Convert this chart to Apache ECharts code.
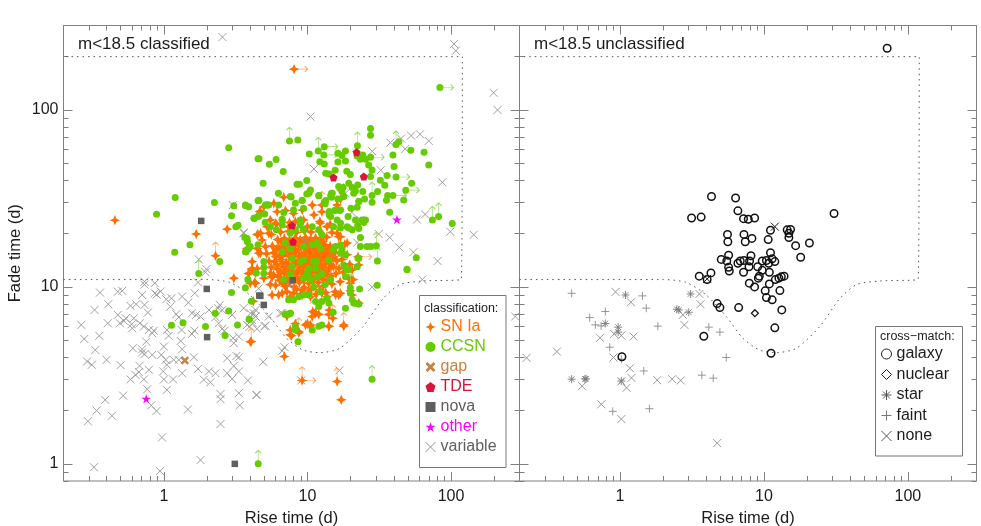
<!DOCTYPE html>
<html><head><meta charset="utf-8">
<style>html,body{margin:0;padding:0;background:#fff}#c{width:981px;height:526px}</style>
<script src="https://cdn.jsdelivr.net/npm/echarts@6/dist/echarts.min.js"></script>
</head><body><div id="c"></div>
<script>
const xMajor=[1,10,100];
const xMinor=[0.2,0.3,0.4,0.5,0.6,0.7,0.8,0.9,2,3,4,5,6,7,8,9,20,30,40,50,60,70,80,90,200,300];
const yMajor=[1,10,100];
const yMinor=[0.8,0.9,2,3,4,5,6,7,8,9,20,30,40,50,60,70,80,90,200,300];
const boundary=[[0.2,11],[1,11],[2,11],[2.88,10.6],[3.97,9],[5.47,6.8],[7.14,5.13],[9.3,4.4],[12.2,4.25],[16.8,4.5],[24.4,5.97],[33.7,8.6],[44,10.3],[64,10.8],[118,11.05],[120,200],[0.2,200]];

const variable=[[.266,6.1],[.279,5.08],[.355,5.29],[.333,4.4],[.292,3.79],[.315,3.63],[.399,3.87],[.5,3.61],[.359,9.29],[.329,7.41],[.41,7.98],[.407,6.23],[.478,9.4],[.513,9.5],[.478,6.95],[.494,6.23],[.527,6.43],[.586,7.81],[.641,7.98],[.543,6.65],[.596,6.15],[.602,5.84],[.618,6.65],[.681,6.23],[.726,5.97],[.733,10.7],[.733,10.3],[.865,10.5],[.706,9],[.733,7.91],[.774,7.16],[.865,9.2],[.95,9.42],[.89,9.05],[1.13,8.63],[1.04,8.51],[1.34,8.82],[1.48,8.15],[1.64,9.2],[1.73,10.6],[1.95,12.1],[1.11,7.74],[1.22,7.01],[1.27,6.74],[1.57,7.1],[1.68,6.95],[1.8,6.8],[2.06,7.41],[2.45,7.91],[2.38,7.58],[2.55,7.4],[2.29,6.74],[2.41,6.23],[2.55,5.79],[2.64,5.64],[2.99,6.95],[3.6,7.58],[4.01,7.1],[4.35,6.8],[3.04,5.13],[3.33,5.24],[3.07,4.81],[3.8,6.1],[3.95,5.95],[4.15,6.25],[4.45,5.8],[1.57,5.42],[1.63,5.66],[1.33,5.71],[1.08,5.29],[1.05,5.71],[.787,5.71],[.851,5.66],[.83,5.47],[.754,4.91],[.608,4.5],[.706,4.44],[.706,4.26],[.733,4.17],[.83,4.13],[.96,4.13],[1,4.6],[1.31,4.95],[1.34,4.44],[1.17,3.87],[1.27,3.87],[1.62,4],[1.73,3.44],[2.06,3.33],[2.29,3.25],[2.76,3.95],[3.2,4.07],[3.33,4],[3.07,3.58],[2.76,3.25],[3.33,3.33],[2.99,3.02],[3.85,2.96],[1.9,2.99],[2.11,2.89],[1.34,3.25],[1.16,3],[1,3],[.99,3.33],[1.05,3.63],[1.03,3.87],[.787,3.4],[.677,3.58],[.635,3.18],[.586,3],[.67,3.3],[.726,3],[.766,2.64],[1.05,2.62],[.521,2.43],[.39,2.3],[.34,2],[.296,1.74],[.435,1.87],[.817,2.14],[.889,1.99],[1.47,2.03],[2.48,2.48],[2.48,2.32],[3.33,2.51],[3.38,2.14],[2.48,1.68],[4.42,2.45],[.97,1.41],[1.8,1.05],[.326,.957],[.94,.91],[2.56,258],[3.02,29],[3.6,20.3],[1.75,14.3],[1.98,12.6],[105,236],[108,216],[198,125],[211,100],[10.5,91.7],[28.3,58.4],[37.8,65.3],[44.9,68.9],[52.7,71.6],[60.9,72.9],[70,66.8],[48,60.2],[11.1,46.4],[32.4,45.6],[87,39],[20.4,26.4],[58,24],[66,25.7],[23.4,23.9],[31.4,19.9],[37.4,19],[98.9,20.5],[144,19.7],[22.2,17.8],[43.7,16.7],[54.7,15.7],[80.7,14],[18.4,33.8],[280,6.8],[16.7,3.37],[9.06,2.96],[4.92,3.77],[4.42,2.45],[6.67,4.35],[6.93,4.56],[63.1,11],[28.2,9.95],[4.23,7.1],[4.35,6.8],[4.12,6.5],[4.35,7.41],[5.02,6],[5.38,6.8],[6.49,7.1],[5.83,11.2],[11.1,8.45],[3.6,20.1],[4.58,9.8],[5.1,6.03],[6.67,7.1]];

const snIa=[[.456,23.8],[1.68,19.9],[2.76,21.2],[4.51,19.9],[2.29,15],[4.12,12.7],[4.66,26.7],[3.07,11.2],[3.9,11.9],[4.1,12.6],[4.28,10.6],[4.06,4.91],[4.2,8.3],[8.07,170],[22.5,14.8],[22.8,13.3],[19.9,9.5],[20.3,11],[17.9,6],[15,6.65],[14.1,5.97],[14.2,7.4],[10.9,7.25],[11.3,7.05],[10,6.2],[10.4,6],[9.7,6.1],[7.74,5.3],[8.7,5.6],[6.9,4.04],[16.1,2.92],[17.2,2.3],[9.18,2.96],[5.83,29.7],[6.84,32.1],[4.97,28.4],[4.71,26.6],[6.15,26.6],[7.03,27],[12.6,29],[11.1,25.5],[16.1,29],[17,31.3],[4.71,20.1],[4.47,19.7],[4.83,18.4],[3.8,16.5],[4.58,15.5],[3.9,11.9],[4.12,12.5],[4.35,12],[5.52,11.9],[5.67,11.4],[4,10.5],[4.35,10.5],[5.67,9],[6.67,9.2],[10.5,6.1],[11.4,7.16],[14.1,7],[14.1,6],[17.9,6.1],[22.8,8.1],[20.8,11],[16.5,9],[20.5,9],[12.6,9.2],[4,4.9],[7.6,5.36],[8.7,5.5],
[6,10.2],[6.4,10.9],[7,10.1],[7.5,10.7],[8.1,10],[8.8,10.6],[9.5,9.9],[10.2,10.5],[11.1,10],[11.9,10.6],[12.9,10.1],[13.8,10.7],[14.8,10.4],
[5.8,11.7],[6.3,11.4],[6.9,11.9],[7.6,11.5],[8.3,11.8],[9,11.3],[9.9,11.8],[10.7,11.4],[11.6,11.9],[12.6,11.5],[13.5,11.8],[14.6,11.5],[15.8,11.9],
[5.6,12.9],[6.2,12.6],[6.8,13],[7.4,12.6],[8,13],[8.7,12.5],[9.4,13],[10.3,12.6],[11,13.1],[12,12.7],[13,13],[14.1,12.6],[15.2,13],[16.6,12.7],
[5.4,14],[5.9,13.9],[6.5,14.3],[7.1,13.8],[7.8,14.3],[8.5,13.9],[9.2,14.4],[10,13.9],[10.8,14.4],[11.7,14],[12.6,14.4],[13.6,14],[14.8,14.4],[16,14],[17.4,14.3],
[5.2,15.4],[5.8,15.6],[6.4,15.2],[7,15.7],[7.7,15.3],[8.3,15.7],[9.1,15.3],[9.8,15.8],[10.6,15.3],[11.5,15.8],[12.4,15.3],[13.4,15.7],[14.4,15.3],[15.6,15.7],
[5.7,17],[6.3,16.8],[7,17.2],[7.6,16.8],[8.2,17.3],[9,16.9],[9.7,17.4],[10.5,17],[11.3,17.4],[12.3,17],[13.2,17.3],[14.4,17],
[6.2,18.5],[6.9,18.8],[7.5,18.4],[8.2,18.9],[8.9,18.5],[9.7,19],[10.5,18.6],[11.4,18.9],[12.4,18.6],[13.6,19.1],
[5.6,19.8],[6.5,20.4],[7.4,20.6],[8.4,20.3],[9.5,20.8],[10.6,20.4],[12.1,20.7],[14.8,20.3],[16.5,19.2],[18.2,17.4],[18.9,15.2],[19.7,13.4],[17.8,12.1],[16.9,10.7],[8,9.2],[9,9.1],[10.1,9.3],[11.5,9.1],[13.4,9.3],[15.6,9.4],[7.2,9.4],[6.1,22.6],[7.5,23.1],[9,23.8],[12.2,23.4],[14.4,22.6],
[6.6,11],[7.2,11.2],[7.9,11],[8.6,11],[9.4,10.9],[10.2,11.1],[11,11],[11.9,11.2],[12.9,11],[6.5,12.1],[7.1,12.3],[7.8,12.1],[8.5,12.2],[9.2,12.1],[10,12.3],[10.8,12.2],[11.7,12.2],[12.6,12.2],[13.7,12.3],[6.1,13.3],[6.7,13.6],[7.4,13.4],[8.2,13.5],[9,13.4],[9.8,13.5],[10.6,13.4],[11.5,13.5],[12.4,13.4],[13.3,13.5],[14.5,13.4],[6,14.8],[6.7,14.9],[7.4,15],[8,14.8],[8.8,14.9],[9.5,14.9],[10.3,14.8],[11.2,14.9],[12,14.8],[13,14.8],[14.1,14.9],[15.3,14.8],[6.1,16.3],[6.8,16.4],[7.4,16.1],[8.1,16.4],[8.7,16.3],[9.5,16.5],[10.2,16.3],[11,16.5],[11.9,16.3],[12.8,16.4],[13.8,16.3],[15,16.4],[6.6,17.9],[7.3,17.8],[8,18],[8.7,17.9],[9.4,18],[10.1,17.8],[10.9,18],[11.8,17.9],[12.8,18],[8.4,9.7],[9.2,9.6],[10.6,9.7],[12.2,9.6],[6.8,10.4],
[5.38,20.1],[5.1,16.9],[4.47,16.5],[4.71,15.5],[4.12,13.9],[4.47,12.7],[4.97,11.2],[5.67,11.4],[5.52,10.3],[6.3,9],[7.6,8.8],[9.18,9],[10.5,8.8],[13.7,8.8],[15.7,9],[17,9.2],[19.9,10.5],[19.4,11.2],[20.5,12.5],[17,19.2],[18.9,17.7],[16.1,20.1],[13.7,21.9],[12.6,26.6],[12.3,22.9],[9.4,23.9],[10,21.9],[8.24,23.4],[7.4,21.9],[6,22.9],[5.52,23.9],[5.24,21.9],[8,26],[9.2,27.2],[10.8,29],[7.6,5.7],[8.24,6.2],[7.2,6.8],[10.8,6.8],[12,7]];

const ccsn=[[2.83,61.2],[4.53,52.9],[1.2,32],[.89,25.7],[2.25,30],[4.53,30.7],[3.07,28.7],[3.7,28.8],[3.9,28.4],[2.96,25.2],[4.25,24.4],[4.53,25],[3.17,21.9],[3.29,22.3],[3.66,19],[3.82,18],[4.53,17.3],[3.9,16.5],[3.74,15.8],[1.52,17.3],[1.19,15.7],[2.45,13.9],[83.7,134],[27.5,78.5],[27.5,71.9],[7.5,66.8],[8.57,67.7],[22.3,62.8],[11.9,58.6],[13.1,62],[13,55.7],[16.3,56.9],[18.4,58.6],[17.4,55.2],[10.3,56.4],[22.2,55],[24.3,55.7],[27.5,54],[25.4,52.6],[23.4,52.6],[18.4,51.5],[16.3,50.8],[12.2,51],[13.1,49.5],[39.4,55.7],[41.4,63.7],[43.3,66.2],[52.5,59.2],[64.9,57.7],[70,48.9],[40.1,47.9],[26.7,48.9],[28.2,45.8],[41.4,41.8],[35.9,42.6],[27.5,42],[6.78,44.9],[4.6,52.9],[5.43,49.3],[6.05,52.4],[18.8,45],[19.9,43.1],[15.6,45.6],[14.2,43.5],[13.4,43.9],[9.9,39.9],[8.47,38],[8.79,38],[4.91,38.5],[32.2,40],[34.6,37.5],[30.8,34.6],[53.2,38.5],[48.4,35.2],[39.4,32.8],[36.2,32.8],[35.5,30.9],[46.8,31],[28.2,32.8],[28.2,30.1],[25,31.4],[24.3,34.6],[21.6,34.8],[19.4,38.5],[20.5,36.4],[17.7,36.4],[16.5,36.9],[22.4,37.7],[14.7,33.8],[17.9,32.4],[16.3,31.4],[14.7,32.1],[12,32.8],[10.3,34.1],[10.5,35.3],[9.9,33.5],[9.2,30.9],[7.7,32.2],[6.28,33.8],[13.3,30.4],[13.3,29.5],[22.8,30.4],[20.1,27.8],[15.5,27],[16.8,27],[14.2,26.7],[14.2,25.5],[19.2,25],[25.4,23.9],[24.7,23.1],[22.4,22.2],[37.4,26.4],[74.2,23.9],[82,25],[102,22.8],[16.1,23.9],[17,21.5],[19.4,21.5],[4.59,30.9],[5.1,29],[5.3,29],[4.25,24.4],[5.08,23.1],[5.52,21.9],[6.08,21],[6.67,24.1],[30.2,17.1],[27.7,16.9],[30.7,14],[22.5,14.5],[57.3,14.6],[23.4,19],[49.4,12.6],
[3.7,29],[4.27,24.4],[4.58,25.2],[5.04,25.8],[5.19,29],[5.38,29],[6.3,29],[7.6,32.4],[8.24,29.7],[9.18,30.8],[10.2,33.8],[12,32.7],[13.4,30.8],[14.5,32.7],[14.9,33.8],[17.4,34.6],[21,33.8],[22.8,30.4],[22.2,28.2],[15.7,27.2],[17,27.2],[14.1,26.3],[14.5,25],[9.4,27.8],[8,27.2],[6.84,26.3],[6.67,23.9],[6.67,22.4],[8.9,23.9],[8.9,22.4],[9.4,21],[7.6,20.1],[8.24,21],[10.8,21.9],[12,21],[12.6,19.7],[15.2,21.9],[17,22.9],[18.9,21.9],[21.6,23.9],[24,23.9],[20.5,21],[22.8,21.4],[26,16.9],[3.8,18.8],[3.7,15.8],[4,16.9],[4.97,13.9],[4.97,12.9],[4.97,11.9],[7,17.7],[7.6,16.5],[6.7,15.8],[7.8,14.5],[7.8,13],[9.4,16.9],[9.4,14.2],[9,13.9],[10.8,17.3],[11.7,17.7],[12.3,16.5],[11,13.9],[11.6,13.9],[10.2,12.7],[10,11.9],[11.4,12.7],[12.6,11.9],[11.7,11.4],[9.4,11.2],[10.5,11],[14.1,14.2],[15.2,16.2],[15.7,16.9],[17.4,16.2],[17,17.3],[17,15.5],[18.4,15.2],[17.9,13.3],[18.9,12.5],[19.4,12.5],[18.4,11.4],[19.9,9.2],[21,8.1],[22.8,14.5],[22.2,13],[23.4,16.9],[6.84,11],[7.6,11.7],[11.1,10],[12.3,9.4],[13.3,10.3],[14.5,11],[9.4,9],[10.2,9],[8.7,8.8],[8,8.45],[7.4,8.45],[7,7],[7.6,7.1],[11.4,8.26],[12,7.74],[12.6,8.26],[13.7,8.63],[14.1,8.1],[18.4,7.57],[12,6],[12.6,6.1],[10.8,5.7],[8.24,6],[8.24,5.7],[8.6,4.9],[3.94,6.56],[30.6,10.2],[23.1,9.74],[19.9,9.9],[20.5,8.45],[21.6,8.09],[22.8,8],[15.1,7.2],[7.2,7],[7.6,7.1],
[1.75,11.9],[3.85,11],[4.4,12],[3.7,9.9],[2.96,9.29],[4.07,8.3],[2.83,7.3],[2.28,7.1],[3.93,6.56],[3.26,6.1],[1.95,5.97],[1.36,6.28],[1.13,6.07],[2.67,5.31],[4.54,1],[28.2,3.01],[49.4,12.5]];

const gap=[[1.4,3.84],[7.5,10.3],[17.1,36.4],[9.7,18]];
const tde=[[15.2,41.5],[24.7,42],[22,57.7],[7.8,22.2],[7.94,18]];
const nova=[[1.82,23.6],[1.99,9.74],[2,5.2],[3.12,1],[4.7,8.9],[4.62,8.93],[4.97,7.91],[7.9,10.9]];
const other=[[.753,2.33],[42,24]];
const ccsnUpLimits=[[7.5,66.8],[22.3,62.8],[11.9,58.6],[41.4,63.7],[74.2,23.9],[82,25],[30.2,17.1],[30.7,14],[28.2,32.8],[1.75,11.9],[4.54,1],[28.2,3.01],[19.9,9.9]];
const ccsnRightLimits=[[83.7,134],[13.1,62],[13,55.7],[27.5,54],[41.4,41.8],[39.4,32.8],[48.4,35.2]];
const snUpLimits=[[2.29,15],[4.06,4.91],[17.9,6],[15,6.65],[14.1,5.97],[8.7,5.6],[16.1,2.92],[9.18,2.96],[12.6,29]];
const snRightLimits=[[8.07,170],[9.18,2.96],[22.5,14.8]];

const galaxy=[[71.8,223],[4.32,32.4],[6.35,31.8],[6.59,26.9],[3.14,24.5],[3.66,24.8],[7.21,24.3],[7.78,24.1],[8.61,24.5],[30.7,26],[11.1,20.9],[14.5,21],[15.3,21.1],[14.9,20.1],[14.9,19],[5.58,19.8],[5.61,18],[7.26,19.8],[7.41,18],[8.25,18.8],[10.7,18.5],[20.7,17.7],[16.6,17.1],[11.1,15.6],[18,14.7],[5.68,15.1],[8.12,15],[5.05,14.3],[5.52,14],[6.59,13.6],[6.84,14],[7.26,14.1],[7.94,14],[7.87,13],[9.73,14],[10.4,14.1],[10.8,13.6],[11.4,14.4],[11.9,13.9],[5.68,12.9],[5.74,12.3],[7.21,12.1],[9.04,13],[9.73,12.4],[10.9,12.1],[4.28,12],[3.55,11.5],[4.03,11],[9.28,11.5],[9.14,11.2],[13.8,11.5],[13.2,11.4],[12.7,11.2],[12,11],[7.91,10.5],[8.61,10],[10.9,10.4],[12.9,9.53],[10.2,9.5],[10.4,8.7],[11.4,8.45],[13.3,7.41],[4.73,8.05],[4.94,7.64],[6.67,7.64],[11.9,5.87],[3.82,5.26],[11.2,4.22],[1.03,4.03]];
const nuclear=[[8.65,7.1]];
const starMatch=[[1.09,9],[3.09,9.12],[2.48,7.48],[2.56,7.41],[3,7.19],[.79,6.21],[.97,5.92],[.97,5.55],[.461,3.01],[.58,3.02],[.57,3.02],[1.02,2.94]];
const faint=[[.461,9.2],[1.43,8.9],[1.52,7.58],[.79,7.26],[.615,6.71],[.673,6.1],[.738,6.02],[1.83,6],[4.14,5.92],[4.94,5.55],[.847,4.56],[1.02,3.9],[5.47,3.99],[1.46,3.35],[3.7,3.17],[4.44,3.05],[.889,1.98],[1.6,2.05]];
const noneOutside=[[.224,3.97],[.364,4.31],[.93,9.37],[1.19,8.19],[3.62,7.98],[2.8,6.1],[2.73,6.95],[.726,5.15],[1.24,5.24],[1.02,5.31],[.9,3.99],[1.17,3.47],[1.2,3.06],[1.81,2.97],[2.3,3.01],[2.64,2.96],[1.02,2.92],[1.11,2.69],[.544,2.75],[.741,2.17],[1.02,1.79],[4.73,1.31],[.91,5.42],[3.56,9.12]];
const noneInside=[[11.9,21.9],[4.03,11.1]];

const GREY='#808080',INK='#1c1c1c';
const P={
 snIa:'path://M0,-10 L3,-3 L10,0 L3,3 L0,10 L-3,3 L-10,0 L-3,-3 Z',
 x:'path://M0,0 L10,10 M10,0 L0,10',
 fatX:'path://M2,0 L5,3 L8,0 L10,2 L7,5 L10,8 L8,10 L5,7 L2,10 L0,8 L3,5 L0,2 Z',
 pent:'path://M5,0 L10,3.8 L8.1,10 L1.9,10 L0,3.8 Z',
 star:'path://M5,0 L6.2,3.6 L10,3.6 L6.9,5.9 L8.1,9.6 L5,7.3 L1.9,9.6 L3.1,5.9 L0,3.6 L3.8,3.6 Z',
 up:'path://M5,0 L5,24 M1,5 L5,0 L9,5',
 right:'path://M0,5 L24,5 M19,1 L24,5 L19,9',
 plus:'path://M5,0 L5,10 M0,5 L10,5',
 ast:'path://M5,0 L5,10 M0,5 L10,5 M1.5,1.5 L8.5,8.5 M8.5,1.5 L1.5,8.5'
};
const xRange={min:.2,max:300},yRange={min:.8,max:300};
function xAxes(g){
 const mk=(pos,vals,len,extra)=>Object.assign({type:'log',logBase:10,gridIndex:g,position:pos,min:xRange.min,max:xRange.max,
   axisLine:{show:false},splitLine:{show:false},minorTick:{show:false},
   axisTick:{show:true,inside:true,length:len,customValues:vals,lineStyle:{color:GREY,width:1}},
   axisLabel:{show:false}},extra||{});
 return [
  mk('bottom',xMajor,9,{name:'Rise time (d)',nameLocation:'middle',nameGap:25,nameTextStyle:{fontSize:16.5,color:INK,fontFamily:'Liberation Sans'},
     axisLabel:{show:true,customValues:xMajor,margin:8,fontSize:16,color:INK,fontFamily:'Liberation Sans'}}),
  mk('bottom',xMinor,5),mk('top',xMajor,9),mk('top',xMinor,5)];
}
function yAxes(g,withLabels){
 const mk=(pos,vals,len,extra)=>Object.assign({type:'log',logBase:10,gridIndex:g,position:pos,min:yRange.min,max:yRange.max,
   axisLine:{show:false},splitLine:{show:false},minorTick:{show:false},
   axisTick:{show:true,inside:true,length:len,customValues:vals,lineStyle:{color:GREY,width:1}},
   axisLabel:{show:false}},extra||{});
 const first=withLabels?{name:'Fade time (d)',nameLocation:'middle',nameGap:40,nameRotate:90,nameTextStyle:{fontSize:16.5,color:INK,fontFamily:'Liberation Sans'},
     axisLabel:{show:true,customValues:yMajor,margin:5,fontSize:16,color:INK,fontFamily:'Liberation Sans'}}:{};
 return [mk('left',yMajor,9,first),mk('left',yMinor,5),mk('right',yMajor,9),mk('right',yMinor,5)];
}
const A0={xAxisIndex:0,yAxisIndex:0}, A1={xAxisIndex:4,yAxisIndex:4};
function scatter(name,data,axes,symbol,size,style,z){
 return Object.assign({type:'scatter',name,data,symbol,symbolSize:size,itemStyle:Object.assign({opacity:1},style),animation:false,silent:true,z:z||2,clip:false},axes);
}
const stroke=(c,w)=>({color:'none',borderColor:c,borderWidth:w});
const arrow=(name,data,axes,symbol,c,offset,size)=>Object.assign(scatter(name,data,axes,symbol,size,stroke(c,.9),2),{symbolOffset:offset});
const dotted=(name,axes)=>Object.assign({type:'line',name,data:boundary,symbol:'none',smooth:.25,silent:true,animation:false,z:1,
  lineStyle:{color:'#555',width:1,type:[1.5,4]}},axes);

const series=[
 dotted('region-left',A0),
 scatter('variable',variable,A0,P.x,8,stroke('#959595',.9)),
 arrow('snUp',snUpLimits,A0,P.up,'#ffa566',[0,-7],[6,13]),
 arrow('snRight',snRightLimits,A0,P.right,'#ffa566',[7,0],[13,6]),
 scatter('SN Ia',snIa,A0,P.snIa,10.5,{color:'#ff7000'}),
 scatter('gap',gap,A0,P.fatX,8.5,{color:'#c98040'}),
 arrow('ccsnUp',ccsnUpLimits,A0,P.up,'#98dc60',[0,-7],[6,13]),
 arrow('ccsnRight',ccsnRightLimits,A0,P.right,'#98dc60',[7,0],[13,6]),
 scatter('CCSN',ccsn,A0,'circle',7,{color:'#66cc00'}),
 scatter('TDE',tde,A0,P.pent,8,{color:'#dc143c'}),
 scatter('nova',nova,A0,'rect',6.5,{color:'#5f5f5f'}),
 scatter('other',other,A0,P.star,9.5,{color:'#ff00ff'}),
 dotted('region-right',A1),
 scatter('none',noneOutside,A1,P.x,8,stroke('#8c8c8c',.9)),
 scatter('faint',faint,A1,P.plus,8,stroke('#8c8c8c',.9)),
 scatter('star',starMatch,A1,P.ast,8,stroke('#7a7a7a',.9)),
 scatter('none-inside',noneInside,A1,P.x,8,stroke('#111',1)),
 scatter('galaxy',galaxy,A1,'circle',7.5,stroke('#111',1.5)),
 scatter('nuclear',nuclear,A1,'diamond',7,stroke('#111',1.2))
];
const legendText={fontSize:16,fontFamily:'Liberation Sans',color:INK};
const cItem=(name,c,icon,sty)=>({name,icon,textStyle:{color:c},itemStyle:Object.assign({opacity:1},sty)});
const option={
 backgroundColor:'#fff',
 grid:[
  {left:63.5,top:25.5,width:456,height:455.5,outerBoundsMode:'none',show:true,backgroundColor:'transparent',borderColor:GREY,borderWidth:1},
  {left:519.5,top:25.5,width:457,height:455.5,outerBoundsMode:'none',show:true,backgroundColor:'transparent',borderColor:GREY,borderWidth:1}],
 xAxis:[...xAxes(0),...xAxes(1)],
 yAxis:[...yAxes(0,true),...yAxes(1,false)],
 title:[
  {text:'m<18.5 classified',left:78,top:36,padding:0,textStyle:{fontSize:17,fontWeight:'normal',color:INK,fontFamily:'Liberation Sans'}},
  {text:'m<18.5 unclassified',left:534,top:36,padding:0,textStyle:{fontSize:17,fontWeight:'normal',color:INK,fontFamily:'Liberation Sans'}}],
 legend:[
  {orient:'vertical',left:423,top:318,itemWidth:10,itemHeight:10,itemGap:2,selectedMode:false,padding:0,textStyle:Object.assign({},legendText,{padding:[0,0,0,0],lineHeight:18}),
   data:[cItem('SN Ia','#ff7000',P.snIa,{color:'#ff7000'}),cItem('CCSN','#66cc00','circle',{color:'#66cc00'}),cItem('gap','#c98040',P.fatX,{color:'#c98040'}),cItem('TDE','#dc143c',P.pent,{color:'#dc143c'}),cItem('nova','#5f5f5f','rect',{color:'#5f5f5f'}),cItem('other','#ff00ff',P.star,{color:'#ff00ff'}),cItem('variable','#5f5f5f',P.x,stroke('#8a8a8a',.9))]},
  {orient:'vertical',left:879,top:345,itemWidth:10,itemHeight:10,itemGap:2.5,selectedMode:false,padding:0,textStyle:Object.assign({},legendText,{padding:[0,0,0,0],lineHeight:18}),
   data:[cItem('galaxy',INK,'circle',stroke('#222',1)),cItem('nuclear',INK,'diamond',stroke('#222',1)),cItem('star',INK,P.ast,stroke('#555',1)),cItem('faint',INK,P.plus,stroke('#777',1)),cItem('none',INK,P.x,stroke('#555',1))]}],
 graphic:[
  {type:'rect',shape:{x:419.5,y:295.5,width:86.5,height:172},style:{fill:'#fff',stroke:'#777',lineWidth:1},z:50},
  {type:'text',x:424,y:302,style:{text:'classification:',fontSize:12.5,fontFamily:'Liberation Sans',fill:INK},z:51},
  {type:'rect',shape:{x:875.5,y:326.5,width:87,height:129.5},style:{fill:'#fff',stroke:'#777',lineWidth:1},z:50},
  {type:'text',x:880,y:330,style:{text:'cross\u2212match:',fontSize:12.5,fontFamily:'Liberation Sans',fill:INK},z:51}],
 series
};
option.legend.forEach(l=>{l.z=60;});
const chart=echarts.init(document.getElementById('c'),null,{renderer:'canvas'});
chart.setOption(option);
</script></body></html>
